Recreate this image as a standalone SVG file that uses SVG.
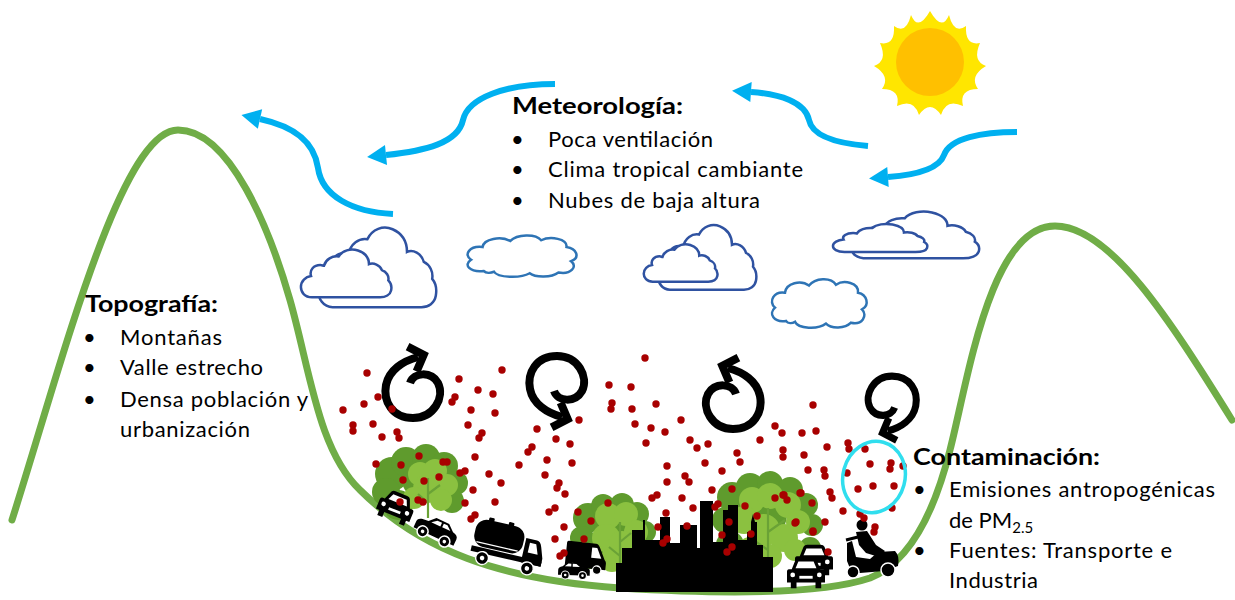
<svg xmlns="http://www.w3.org/2000/svg" xmlns:xlink="http://www.w3.org/1999/xlink" width="1235" height="600" viewBox="0 0 1235 600">
  <style>
    .ridge { fill: none; stroke: #70AD47; stroke-width: 7; stroke-linecap: round; }
    .wind { fill: none; stroke: #00B0F0; stroke-width: 6; }
    .swirl { fill: none; stroke: #000; stroke-width: 8; }
    .cloudA { fill: #fff; stroke: #2F52A1; stroke-width: 2.5; }
    .cloudB { fill: #fff; stroke: #2E74B5; stroke-width: 2.5; }
    .dark { fill: #5F9B2D; }
    .light { fill: #8BC140; }
    .branch { fill: none; stroke: #6AA236; stroke-width: 2.2; }
    .pm { fill: #A80000; }
    .txt { font-family: Lato, "Liberation Sans", sans-serif; font-size: 22px; fill: #000; }
    .hd { font-weight: bold; }
  </style>
  <defs>
    <marker id="windHead" markerUnits="userSpaceOnUse" markerWidth="24" markerHeight="24" viewBox="0 -12 20 24" refX="0" refY="0" orient="auto">
      <path d="M0,-10 L19,0 L0,10 Z" fill="#00B0F0"/>
    </marker>
    <symbol id="cloudIcon" viewBox="0 0 100 60" preserveAspectRatio="none" overflow="visible">
      <path vector-effect="non-scaling-stroke" d="M13,58 C5,58 1,52 1,46 C1,39 6,34 12,33 C10,26 15,20 22,20 C24,20 25,21 26,21 C28,13 35,9 42,10 C46,3 55,0 63,3 C71,6 75,12 75,19 C80,17 87,20 89,26 C94,28 97,33 96,38 C99,41 100,45 99,50 C98,55 93,58 87,58 Z"/>
    </symbol>
    <symbol id="cloudPuff" viewBox="0 0 100 60" preserveAspectRatio="none" overflow="visible">
      <path vector-effect="non-scaling-stroke" d="M18,52 C6,54 0,44 7,37 C0,30 6,18 17,20 C18,9 33,5 41,12 C47,3 63,2 68,11 C76,5 91,9 90,20 C99,22 102,34 94,39 C100,46 94,57 83,54 C77,61 63,61 58,55 C50,62 30,61 27,53 C24,55 20,55 18,52 Z"/>
    </symbol>
    <!-- circulation swirl, drawn around its own centre -->
    <g id="swirl">
      <path class="swirl" d="M-3,-4 C1,-15 18,-16 25,-4 C32,10 21,31 0,31 C-21,31 -30,14 -27,-2 C-24,-17 -10,-26 5,-30"/>
      <polyline class="swirl" points="-5.4,-40.4 10.7,-32.1 3.6,-15.6"/>
    </g>
    <g id="carFront">
      <path d="M5,13 L9,3 Q10,1 13,1 L27,1 Q30,1 31,3 L35,13 L38,13 Q40,13 40,16 L40,27 L36,27 L36,33 L30,33 L30,27 L10,27 L10,33 L4,33 L4,27 L0,27 L0,16 Q0,13 2,13 Z" fill="#000"/>
      <path d="M9,12 L12,5 L28,5 L31,12 Z" fill="#fff"/>
      <circle cx="6" cy="19" r="2.5" fill="#fff"/>
      <circle cx="34" cy="19" r="2.5" fill="#fff"/>
      <rect x="13" y="20" width="14" height="3" fill="#fff"/>
    </g>
    <g id="carSide">
      <path d="M1,19 L1,12 Q1,9 5,8 L12,7 L18,1 L32,1 L39,7 Q45,8 45,12 L45,19 Z" fill="#000"/>
      <path d="M15,7 L20,3 L25,3 L25,7 Z M27,3 L31,3 L36,7 L27,7 Z" fill="#fff"/>
      <circle cx="11" cy="19" r="5.5" fill="#000" stroke="#fff" stroke-width="1.5"/>
      <circle cx="35" cy="19" r="5.5" fill="#000" stroke="#fff" stroke-width="1.5"/>
      <circle cx="11" cy="19" r="1.8" fill="#fff"/>
      <circle cx="35" cy="19" r="1.8" fill="#fff"/>
    </g>
    <g id="tanker">
      <rect x="0" y="0" width="54" height="30" rx="12" fill="#000"/>
      <rect x="12" y="-3" width="6" height="4" rx="1" fill="#000"/>
      <rect x="34" y="-3" width="6" height="4" rx="1" fill="#000"/>
      <path d="M4,26 L50,26" stroke="#fff" stroke-width="1.5"/>
      <rect x="0" y="31" width="78" height="6" fill="#000"/>
      <path d="M56,10 L68,10 Q72,10 74,16 L78,28 L78,37 L56,37 Z" fill="#000"/>
      <path d="M61,14 L68,14 L72,25 L61,25 Z" fill="#fff"/>
      <circle cx="14" cy="42" r="7" fill="#000" stroke="#fff" stroke-width="1.5"/>
      <circle cx="14" cy="42" r="2.5" fill="#fff"/>
      <circle cx="64" cy="42" r="7" fill="#000" stroke="#fff" stroke-width="1.5"/>
      <circle cx="64" cy="42" r="2.5" fill="#fff"/>
    </g>
    <g id="van">
      <path d="M0,2 Q0,0 2,0 L34,0 Q37,0 39,4 L46,18 Q48,20 48,22 L48,30 L0,30 Z" fill="#000"/>
      <path d="M30,5 L36,5 L42,17 L30,17 Z" fill="#fff"/>
      <circle cx="10" cy="31" r="5" fill="#000" stroke="#fff" stroke-width="1.5"/>
      <circle cx="38" cy="31" r="5" fill="#000" stroke="#fff" stroke-width="1.5"/>
    </g>
  </defs>

  <rect width="1235" height="600" fill="#fff"/>

  <!-- sun -->
  <g id="sun">
    <path fill="#FFE600" d="M930,11 Q942,32 949,15 Q954,35 966,26 Q965,46 980,43 Q972,61 986,66 Q969,76 978,89 Q959,89 963,106 Q946,98 941,115 Q930,99 919,115 Q914,98 897,106 Q901,89 882,89 Q891,76 874,66 Q888,61 880,43 Q895,46 894,26 Q906,35 911,15 Q918,32 930,11 Z"/>
    <circle cx="930" cy="62" r="34" fill="#FFC000"/>
  </g>

  <!-- valley outline -->
  <g id="terrain">
    <path class="ridge" d="M12,520 C60,370 120,130 178,130 C230,130 270,230 290,300 C310,370 318,450 360,490 C420,550 500,580 620,588 C720,594 820,595 870,578 C910,562 935,510 950,450 C968,380 990,226 1055,226 C1110,226 1170,320 1232,420"/>
  </g>

  <!-- wind arrows -->
  <g id="connectors">
    <path class="wind" marker-end="url(#windHead)" d="M393,214 C352,212 322,196 318,168 C314,140 292,126 260,119"/>
    <path class="wind" marker-end="url(#windHead)" d="M555,84 C505,84 468,98 463,120 C458,143 425,151 386,155"/>
    <path class="wind" marker-end="url(#windHead)" d="M868,146 C832,143 812,135 809,120 C805,102 780,94 751,92"/>
    <path class="wind" marker-end="url(#windHead)" d="M1017,132 C982,132 950,138 944,155 C939,169 915,175 888,177"/>
  </g>

  <!-- clouds -->
  <g id="clouds">
    <use href="#cloudIcon" class="cloudA" x="317" y="225" width="120" height="85"/>
    <use href="#cloudIcon" class="cloudA" x="300" y="248" width="92" height="51"/>
    <use href="#cloudPuff" class="cloudB" x="463" y="232" width="115" height="45"/>
    <use href="#cloudIcon" class="cloudA" x="657" y="223" width="100" height="69"/>
    <use href="#cloudIcon" class="cloudA" x="643" y="243" width="75" height="40"/>
    <use href="#cloudIcon" class="cloudA" x="850" y="210" width="130" height="50"/>
    <use href="#cloudIcon" class="cloudA" x="832" y="223" width="96" height="30"/>
    <use href="#cloudPuff" class="cloudB" x="768" y="275" width="100" height="53"/>
  </g>

  <!-- air circulation -->
  <g id="circulation">
    <use href="#swirl" transform="translate(413,387)"/>
    <use href="#swirl" transform="translate(557,387) scale(1,-1)"/>
    <use href="#swirl" transform="translate(733,398) scale(-1,1)"/>
    <use href="#swirl" transform="translate(892,404) scale(-0.88,-0.9)"/>
  </g>

  <!-- trees -->
  <g id="trees">
    <g class="dark">
      <circle cx="392" cy="474" r="17"/><circle cx="406" cy="462" r="15"/><circle cx="426" cy="458" r="14"/>
      <circle cx="444" cy="466" r="14"/><circle cx="456" cy="483" r="12"/><circle cx="386" cy="492" r="14"/>
      <circle cx="398" cy="505" r="15"/><circle cx="452" cy="501" r="12"/><circle cx="420" cy="480" r="18"/>
      <circle cx="588" cy="518" r="15"/><circle cx="603" cy="506" r="12"/><circle cx="622" cy="505" r="12"/>
      <circle cx="637" cy="514" r="12"/><circle cx="645" cy="532" r="11"/><circle cx="582" cy="538" r="12"/>
      <circle cx="590" cy="555" r="14"/><circle cx="640" cy="552" r="12"/><circle cx="610" cy="528" r="16"/>
      <circle cx="732" cy="497" r="15"/><circle cx="750" cy="487" r="14"/><circle cx="770" cy="484" r="13"/>
      <circle cx="790" cy="490" r="13"/><circle cx="806" cy="505" r="12"/><circle cx="812" cy="525" r="11"/>
      <circle cx="725" cy="520" r="13"/><circle cx="730" cy="545" r="14"/><circle cx="810" cy="548" r="11"/>
      <circle cx="765" cy="515" r="22"/>
    </g>
    <g class="light">
      <circle cx="420" cy="474" r="12"/><circle cx="435" cy="471" r="12"/><circle cx="447" cy="485" r="11"/>
      <circle cx="427" cy="489" r="14"/><circle cx="441" cy="500" r="11"/><circle cx="414" cy="498" r="11"/>
      <circle cx="608" cy="516" r="13"/><circle cx="626" cy="514" r="12"/><circle cx="636" cy="532" r="12"/>
      <circle cx="606" cy="538" r="14"/><circle cx="622" cy="545" r="14"/><circle cx="612" cy="560" r="12"/>
      <circle cx="632" cy="562" r="10"/>
      <circle cx="752" cy="500" r="13"/><circle cx="770" cy="496" r="13"/><circle cx="788" cy="505" r="13"/>
      <circle cx="798" cy="522" r="12"/><circle cx="744" cy="520" r="14"/><circle cx="764" cy="530" r="16"/>
      <circle cx="784" cy="538" r="14"/><circle cx="750" cy="550" r="13"/><circle cx="795" cy="550" r="11"/>
      <circle cx="770" cy="556" r="12"/>
    </g>
    <path class="branch" d="M428,518 L428,478 M428,494 L440,485 M428,503 L418,494"/>
    <path class="branch" d="M620,585 L620,522 M620,542 L631,533 M620,556 L609,547"/>
    <path class="branch" d="M768,585 L768,508 M768,532 L785,520 M768,550 L752,539"/>
  </g>

  <!-- city skyline -->
  <g id="city">
    <path fill="#000" d="M616,592 L616,563 L622,563 L622,548 L632,548 L632,530 L643,530 L643,520 L645,520 L645,540 L660,540 L660,517 L670,517 L670,543 L680,543 L680,525 L697,525 L697,548 L700,548 L700,501 L713,501 L713,542 L723,542 L723,510 L728,510 L728,505 L738,505 L738,540 L747,540 L747,532 L751,532 L751,522 L753,514 L755,522 L757,522 L757,545 L763,545 L763,557 L773,557 L773,592 Z"/>
  </g>

  <!-- traffic -->
  <g id="vehicles">
    <use href="#carFront" transform="translate(396,507) rotate(22) scale(0.9) translate(-20,-17)"/>
    <use href="#carSide" transform="translate(436,531) rotate(25) translate(-23,-13)"/>
    <use href="#tanker" transform="translate(508,548) rotate(13) scale(0.92) translate(-39,-25)"/>
    <use href="#van" transform="translate(586,558) rotate(6) scale(0.85) translate(-24,-18)"/>
    <use href="#carSide" transform="translate(574,571) rotate(2) scale(-0.72,0.72) translate(-23,-13)"/>
    <use href="#carFront" transform="translate(814,560) scale(0.95) translate(-20,-17)"/>
    <use href="#carFront" transform="translate(806,573) scale(0.95) translate(-20,-17)"/>
    <g id="scooter" fill="#000">
      <circle cx="862" cy="525" r="5.5"/>
      <path d="M856,532 L867,531 L876,545 L885,551 L879,557 L866,553 L859,545 Z"/>
      <path d="M847,543 L852,541 L856,557 L870,559 L878,552 L895,551 Q900,556 898,566 L884,571 L860,573 L851,571 L847,561 Z"/>
      <path d="M846,540 L858,537" stroke="#000" stroke-width="3"/>
      <circle cx="853" cy="572" r="6" stroke="#fff" stroke-width="1.5"/>
      <circle cx="888" cy="570" r="7" stroke="#fff" stroke-width="1.5"/>
    </g>
  </g>

  <!-- fine particulate matter -->
  <g id="particles" class="pm">
    <circle cx="367" cy="373" r="3.7"/><circle cx="502" cy="370" r="3.7"/><circle cx="459" cy="379" r="3.7"/>
    <circle cx="378" cy="397" r="3.7"/><circle cx="478" cy="390" r="3.7"/><circle cx="493" cy="394" r="3.7"/>
    <circle cx="455" cy="397" r="3.7"/><circle cx="452" cy="402" r="3.7"/><circle cx="364" cy="404" r="3.7"/>
    <circle cx="392" cy="409" r="3.7"/><circle cx="343" cy="410" r="3.7"/><circle cx="471" cy="410" r="3.7"/>
    <circle cx="495" cy="413" r="3.7"/><circle cx="373" cy="424" r="3.7"/><circle cx="353" cy="425" r="3.7"/>
    <circle cx="353" cy="431" r="3.7"/><circle cx="468" cy="425" r="3.7"/><circle cx="397" cy="432" r="3.7"/>
    <circle cx="482" cy="433" r="3.7"/><circle cx="399" cy="438" r="3.7"/><circle cx="479" cy="438" r="3.7"/>
    <circle cx="382" cy="437" r="3.7"/><circle cx="475" cy="457" r="3.7"/><circle cx="376" cy="464" r="3.7"/>
    <circle cx="401" cy="465" r="3.7"/><circle cx="419" cy="456" r="3.7"/><circle cx="443" cy="462" r="3.7"/>
    <circle cx="447" cy="462" r="3.7"/>
    <circle cx="579" cy="420" r="3.7"/><circle cx="537" cy="429" r="3.7"/><circle cx="556" cy="439" r="3.7"/>
    <circle cx="570" cy="444" r="3.7"/><circle cx="532" cy="447" r="3.7"/><circle cx="528" cy="452" r="3.7"/>
    <circle cx="547" cy="460" r="3.7"/><circle cx="572" cy="463" r="3.7"/><circle cx="519" cy="465" r="3.7"/>
    <circle cx="609" cy="385" r="3.7"/><circle cx="631" cy="387" r="3.7"/><circle cx="612" cy="403" r="3.7"/>
    <circle cx="611" cy="409" r="3.7"/><circle cx="632" cy="409" r="3.7"/><circle cx="635" cy="424" r="3.7"/>
    <circle cx="645" cy="358" r="3.7"/><circle cx="651" cy="428" r="3.7"/><circle cx="646" cy="443" r="3.7"/>
    <circle cx="665" cy="432" r="3.7"/><circle cx="681" cy="420" r="3.7"/><circle cx="690" cy="440" r="3.7"/>
    <circle cx="697" cy="448" r="3.7"/><circle cx="708" cy="444" r="3.7"/><circle cx="737" cy="453" r="3.7"/>
    <circle cx="760" cy="440" r="3.7"/><circle cx="775" cy="426" r="3.7"/><circle cx="656" cy="404" r="3.7"/>
    <circle cx="460" cy="473" r="3.7"/><circle cx="465" cy="471" r="3.7"/><circle cx="403" cy="480" r="3.7"/>
    <circle cx="424" cy="481" r="3.7"/><circle cx="439" cy="477" r="3.7"/><circle cx="489" cy="474" r="3.7"/>
    <circle cx="501" cy="483" r="3.7"/><circle cx="545" cy="475" r="3.7"/><circle cx="559" cy="483" r="3.7"/>
    <circle cx="557" cy="488" r="3.7"/><circle cx="565" cy="494" r="3.7"/><circle cx="473" cy="490" r="3.7"/>
    <circle cx="495" cy="502" r="3.7"/><circle cx="465" cy="503" r="3.7"/><circle cx="400" cy="502" r="3.7"/>
    <circle cx="418" cy="500" r="3.7"/><circle cx="423" cy="502" r="3.7"/><circle cx="475" cy="515" r="3.7"/>
    <circle cx="471" cy="519" r="3.7"/><circle cx="549" cy="512" r="3.7"/><circle cx="555" cy="508" r="3.7"/>
    <circle cx="578" cy="512" r="3.7"/><circle cx="608" cy="503" r="3.7"/><circle cx="564" cy="527" r="3.7"/>
    <circle cx="591" cy="521" r="3.7"/><circle cx="555" cy="539" r="3.7"/><circle cx="584" cy="539" r="3.7"/>
    <circle cx="564" cy="553" r="3.7"/><circle cx="560" cy="556" r="3.7"/>
    <circle cx="667" cy="466" r="3.7"/><circle cx="705" cy="463" r="3.7"/><circle cx="722" cy="471" r="3.7"/>
    <circle cx="740" cy="462" r="3.7"/><circle cx="808" cy="470" r="3.7"/><circle cx="824" cy="470" r="3.7"/>
    <circle cx="825" cy="476" r="3.7"/><circle cx="685" cy="476" r="3.7"/><circle cx="689" cy="482" r="3.7"/>
    <circle cx="667" cy="482" r="3.7"/><circle cx="712" cy="490" r="3.7"/><circle cx="732" cy="489" r="3.7"/>
    <circle cx="800" cy="493" r="3.7"/><circle cx="830" cy="492" r="3.7"/><circle cx="832" cy="498" r="3.7"/>
    <circle cx="652" cy="498" r="3.7"/><circle cx="657" cy="495" r="3.7"/><circle cx="682" cy="498" r="3.7"/>
    <circle cx="783" cy="495" r="3.7"/><circle cx="787" cy="500" r="3.7"/><circle cx="775" cy="498" r="3.7"/>
    <circle cx="718" cy="504" r="3.7"/><circle cx="715" cy="507" r="3.7"/><circle cx="693" cy="508" r="3.7"/>
    <circle cx="745" cy="506" r="3.7"/><circle cx="812" cy="503" r="3.7"/><circle cx="666" cy="513" r="3.7"/>
    <circle cx="757" cy="516" r="3.7"/><circle cx="729" cy="522" r="3.7"/><circle cx="796" cy="522" r="3.7"/>
    <circle cx="825" cy="522" r="3.7"/><circle cx="658" cy="527" r="3.7"/><circle cx="687" cy="526" r="3.7"/>
    <circle cx="813" cy="531" r="3.7"/><circle cx="722" cy="535" r="3.7"/><circle cx="751" cy="534" r="3.7"/>
    <circle cx="667" cy="539" r="3.7"/><circle cx="663" cy="543" r="3.7"/><circle cx="732" cy="547" r="3.7"/>
    <circle cx="727" cy="552" r="3.7"/><circle cx="828" cy="552" r="3.7"/>
    <circle cx="813" cy="405" r="3.7"/><circle cx="802" cy="433" r="3.7"/><circle cx="816" cy="431" r="3.7"/>
    <circle cx="782" cy="433" r="3.7"/><circle cx="848" cy="443" r="3.7"/><circle cx="849" cy="449" r="3.7"/>
    <circle cx="827" cy="447" r="3.7"/><circle cx="865" cy="449" r="3.7"/><circle cx="783" cy="450" r="3.7"/>
    <circle cx="783" cy="457" r="3.7"/><circle cx="804" cy="455" r="3.7"/><circle cx="870" cy="464" r="3.7"/>
    <circle cx="891" cy="463" r="3.7"/><circle cx="890" cy="469" r="3.7"/><circle cx="903" cy="466" r="3.7"/>
    <circle cx="847" cy="473" r="3.7"/><circle cx="858" cy="489" r="3.7"/><circle cx="873" cy="486" r="3.7"/>
    <circle cx="894" cy="486" r="3.7"/><circle cx="784" cy="495" r="3.7"/><circle cx="801" cy="493" r="3.7"/>
    <circle cx="843" cy="511" r="3.7"/><circle cx="860" cy="514" r="3.7"/><circle cx="864" cy="518" r="3.7"/>
    <circle cx="892" cy="508" r="3.7"/><circle cx="795" cy="523" r="3.7"/><circle cx="875" cy="527" r="3.7"/>
    <circle cx="874" cy="532" r="3.7"/><circle cx="813" cy="532" r="3.7"/>
  </g>

  <!-- highlight ring -->
  <ellipse cx="874" cy="477" rx="31" ry="36" transform="rotate(15 874 477)" fill="none" stroke="#30DEEE" stroke-width="3.5"/>

  <!-- labels -->
  <g id="meteorologia" class="txt">
    <text class="hd" x="512" y="114" textLength="171" lengthAdjust="spacingAndGlyphs">Meteorología:</text>
    <text x="511" y="147">•</text>
    <text x="511" y="177">•</text>
    <text x="511" y="208">•</text>
    <text x="548" y="147" textLength="165">Poca ventilación</text>
    <text x="548" y="177" textLength="255">Clima tropical cambiante</text>
    <text x="548" y="208" textLength="212">Nubes de baja altura</text>
  </g>
  <g id="topografia" class="txt">
    <text class="hd" x="85" y="312" textLength="133" lengthAdjust="spacingAndGlyphs">Topografía:</text>
    <text x="83" y="345">•</text>
    <text x="83" y="375">•</text>
    <text x="83" y="407">•</text>
    <text x="120" y="345" textLength="102">Montañas</text>
    <text x="120" y="375" textLength="143">Valle estrecho</text>
    <text x="120" y="407" textLength="188">Densa población y</text>
    <text x="120" y="437" textLength="130">urbanización</text>
  </g>
  <g id="contaminacion" class="txt">
    <text class="hd" x="913" y="465" textLength="187" lengthAdjust="spacingAndGlyphs">Contaminación:</text>
    <text x="913" y="497">•</text>
    <text x="913" y="558">•</text>
    <text x="949" y="497" textLength="266">Emisiones antropogénicas</text>
    <text x="949" y="528">de PM<tspan font-size="15" dy="5">2.5</tspan></text>
    <text x="949" y="558" textLength="223">Fuentes: Transporte e</text>
    <text x="949" y="588" textLength="89">Industria</text>
  </g>
</svg>
